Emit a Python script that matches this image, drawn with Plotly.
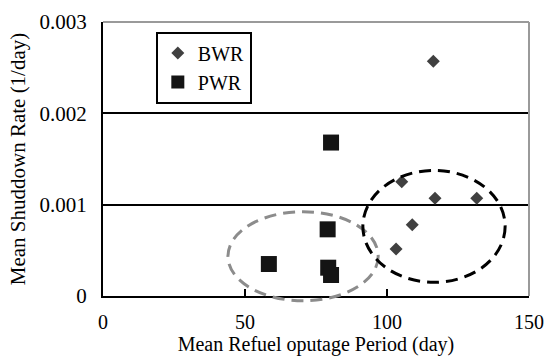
import plotly.graph_objects as go

# ---- data ----
bwr_x = [103.2, 105.2, 108.9, 116.3, 116.9, 131.6]
bwr_y = [0.000515, 0.00125, 0.00078, 0.00257, 0.00107, 0.00107]
pwr_x = [58.4, 79.1, 79.3, 80.3, 80.3]
pwr_y = [0.00035, 0.00073, 0.00031, 0.00023, 0.00168]

x_ticks = [0, 50, 100, 150]
y_ticks = [0, 0.001, 0.002, 0.003]
x_range = [0, 150]
y_range = [0, 0.003]

# dashed ellipses (data units): x0, x1, y0, y1
ellipse_pwr = [44.0, 96.9, -0.000052, 0.000923]
ellipse_bwr = [91.5, 141.6, 0.000150, 0.001375]

FONT = "Liberation Serif"
TF = dict(family=FONT, size=21, color="black")
XTF = dict(family=FONT, size=20, color="black")
XTITLE = dict(family=FONT, size=20, color="black")

fig = go.Figure()
fig.add_trace(go.Scatter(x=bwr_x, y=bwr_y, mode="markers", name="BWR",
                         marker=dict(symbol="diamond", size=10, color="#404040"),
                         showlegend=False))
fig.add_trace(go.Scatter(x=pwr_x, y=pwr_y, mode="markers", name="PWR",
                         marker=dict(symbol="square", size=16, color="#141414"),
                         showlegend=False))
# legend entries
fig.add_trace(go.Scatter(x=[None], y=[None], mode="markers", name="BWR", legendgroup="a",
                         marker=dict(symbol="diamond", size=10, color="#404040")))
fig.add_trace(go.Scatter(x=[None], y=[None], mode="markers", name="PWR", legendgroup="b",
                         marker=dict(symbol="square", size=13, color="#141414")))


def dom(e):
    return dict(x0=(e[0] - x_range[0]) / (x_range[1] - x_range[0]),
                x1=(e[1] - x_range[0]) / (x_range[1] - x_range[0]),
                y0=(e[2] - y_range[0]) / (y_range[1] - y_range[0]),
                y1=(e[3] - y_range[0]) / (y_range[1] - y_range[0]))


fig.add_shape(type="circle", xref="x domain", yref="y domain", **dom(ellipse_pwr),
              line=dict(color="#8c8c8c", width=3, dash="12px,7px"), layer="above")
fig.add_shape(type="circle", xref="x domain", yref="y domain", **dom(ellipse_bwr),
              line=dict(color="#000000", width=3, dash="12px,7px"), layer="above")
# gray top & right frame
fig.add_shape(type="line", xref="x domain", yref="y domain", x0=0, x1=1, y0=1, y1=1,
              line=dict(color="#9a9a9a", width=2), layer="above")
fig.add_shape(type="line", xref="x domain", yref="y domain", x0=1, x1=1, y0=0, y1=1,
              line=dict(color="#9a9a9a", width=2), layer="above")

fig.update_layout(
    width=547, height=356,
    margin=dict(l=103, r=18, t=22, b=60, autoexpand=False),
    paper_bgcolor="white", plot_bgcolor="white",
    font=TF,
    showlegend=True,
    legend=dict(x=0.124, y=0.965, xanchor="left", yanchor="top",
                bordercolor="black", borderwidth=2, bgcolor="white",
                font=dict(family=FONT, size=20, color="black"), tracegroupgap=0,
                itemsizing="trace", traceorder="grouped", itemwidth=30),
    xaxis=dict(range=x_range, tickvals=x_ticks, ticktext=[str(v) for v in x_ticks],
               automargin=False, tickfont=XTF,
               showgrid=False, zeroline=False, showline=True, linecolor="black", linewidth=2,
               ticks="inside", ticklen=7, tickwidth=2, tickcolor="black",
               ticklabelstandoff=7,
               title=dict(text="Mean Refuel oputage Period (day)", standoff=12, font=XTITLE)),
    yaxis=dict(range=y_range, tickvals=y_ticks, ticktext=["0", "0.001", "0.002", "0.003"],
               automargin=False, tickfont=TF,
               showgrid=True, gridcolor="black", gridwidth=1.5, zeroline=False,
               showline=True, linecolor="black", linewidth=2,
               ticks="inside", ticklen=6, tickwidth=2, tickcolor="black",
               ticklabelstandoff=10,
               title=dict(text="Mean Shuddown Rate (1/day)", standoff=8, font=TF)),
)

fig.write_html("out.html")
